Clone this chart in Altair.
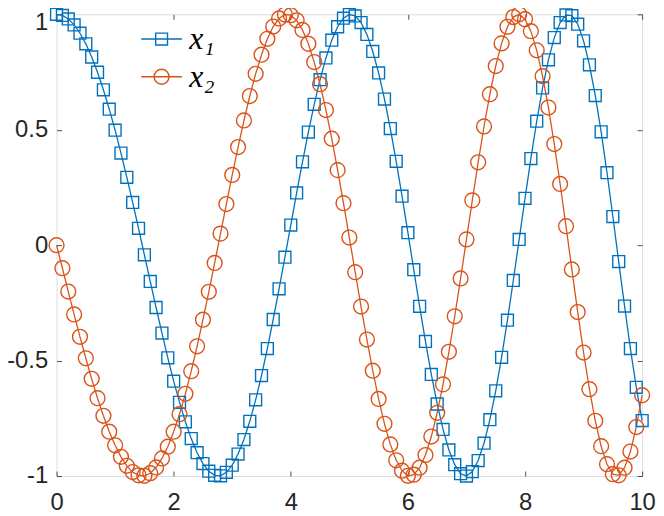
import altair as alt
import pandas as pd

t_values = [0.0, 0.1, 0.2, 0.3, 0.4, 0.5, 0.6, 0.7, 0.8, 0.9,
            1.0, 1.1, 1.2, 1.3, 1.4, 1.5, 1.6, 1.7, 1.8, 1.9,
            2.0, 2.1, 2.2, 2.3, 2.4, 2.5, 2.6, 2.7, 2.8, 2.9,
            3.0, 3.1, 3.2, 3.3, 3.4, 3.5, 3.6, 3.7, 3.8, 3.9,
            4.0, 4.1, 4.2, 4.3, 4.4, 4.5, 4.6, 4.7, 4.8, 4.9,
            5.0, 5.1, 5.2, 5.3, 5.4, 5.5, 5.6, 5.7, 5.8, 5.9,
            6.0, 6.1, 6.2, 6.3, 6.4, 6.5, 6.6, 6.7, 6.8, 6.9,
            7.0, 7.1, 7.2, 7.3, 7.4, 7.5, 7.6, 7.7, 7.8, 7.9,
            8.0, 8.1, 8.2, 8.3, 8.4, 8.5, 8.6, 8.7, 8.8, 8.9,
            9.0, 9.1, 9.2, 9.3, 9.4, 9.5, 9.6, 9.7, 9.8, 9.9,
            10.0]

x1_values = [1.000, 0.995, 0.980, 0.954, 0.918, 0.872, 0.815, 0.749, 0.673, 0.589,
             0.498, 0.399, 0.294, 0.185, 0.073, -0.042, -0.157, -0.270, -0.381, -0.488,
             -0.589, -0.681, -0.765, -0.838, -0.899, -0.946, -0.979, -0.997, -0.999, -0.984,
             -0.953, -0.905, -0.842, -0.763, -0.670, -0.565, -0.448, -0.322, -0.189, -0.052,
             0.087, 0.226, 0.361, 0.490, 0.610, 0.717, 0.811, 0.888, 0.946, 0.983,
             0.999, 0.993, 0.964, 0.913, 0.839, 0.746, 0.633, 0.505, 0.363, 0.212,
             0.054, -0.106, -0.265, -0.417, -0.560, -0.688, -0.798, -0.887, -0.951, -0.990,
             -1.000, -0.981, -0.933, -0.858, -0.756, -0.631, -0.486, -0.325, -0.153, 0.025,
             0.203, 0.375, 0.537, 0.681, 0.803, 0.899, 0.964, 0.997, 0.994, 0.957,
             0.885, 0.781, 0.648, 0.491, 0.314, 0.124, -0.071, -0.264, -0.448, -0.616,
             -0.760]

x2_values = [0.000, -0.100, -0.201, -0.300, -0.397, -0.490, -0.579, -0.663, -0.739, -0.808,
             -0.867, -0.917, -0.956, -0.983, -0.997, -0.999, -0.988, -0.963, -0.924, -0.873,
             -0.808, -0.732, -0.644, -0.546, -0.438, -0.323, -0.202, -0.077, 0.050, 0.178,
             0.304, 0.425, 0.540, 0.646, 0.742, 0.825, 0.894, 0.947, 0.982, 0.999,
             0.996, 0.974, 0.932, 0.872, 0.793, 0.697, 0.585, 0.461, 0.325, 0.182,
             0.033, -0.117, -0.266, -0.409, -0.544, -0.666, -0.774, -0.863, -0.932, -0.977,
             -0.999, -0.994, -0.964, -0.909, -0.829, -0.726, -0.603, -0.462, -0.308, -0.144,
             0.025, 0.194, 0.359, 0.514, 0.654, 0.776, 0.874, 0.946, 0.988, 1.000,
             0.979, 0.927, 0.844, 0.732, 0.596, 0.438, 0.265, 0.082, -0.105, -0.290,
             -0.465, -0.624, -0.761, -0.871, -0.949, -0.992, -0.997, -0.964, -0.894, -0.788,
             -0.650]

series_names = ["x1", "x2"]
legend_labels = ["x\u2081", "x\u2082"]
series_colors = ["#0072BD", "#D95319"]
x_ticks = [0, 2, 4, 6, 8, 10]
y_ticks = [-1, -0.5, 0, 0.5, 1]

rows = []
for name, vals in zip(series_names, [x1_values, x2_values]):
    for t, v in zip(t_values, vals):
        rows.append({"t": t, "value": v, "series": name})
df = pd.DataFrame(rows)
legend_df = pd.DataFrame({"label": legend_labels})

W, H = 591, 466
AX = "#4d4d4d"
TXT = "#262626"
FONT = "Liberation Sans"

x_scale = alt.Scale(domain=[0, 10], nice=False, zero=False)
y_scale = alt.Scale(domain=[-1, 1], nice=False, zero=False)
color_scale = alt.Scale(domain=series_names, range=series_colors)

x_axis_main = alt.Axis(orient="bottom", values=x_ticks, offset=-5, tickSize=5,
                       domain=False, grid=False, labelPadding=15, labelFont=FONT,
                       labelFontSize=24, labelColor=TXT, tickColor=AX, tickWidth=1,
                       labelFlush=False, labelOverlap=False,
                       title=None, labelExpr="'' + datum.value")
y_axis_main = alt.Axis(orient="left", values=y_ticks, offset=-5, tickSize=5,
                       domain=False, grid=False, labelPadding=9, labelFont=FONT,
                       labelFontSize=24, labelColor=TXT, tickColor=AX, tickWidth=1,
                       labelFlush=False, labelOverlap=False,
                       title=None, labelExpr="'' + datum.value",
                       labelOffset={"condition": {"test": "datum.value == 1", "value": 8}, "value": 0})
x_axis_top = alt.Axis(orient="top", values=x_ticks, offset=-5, tickSize=5,
                      domain=False, grid=False, labels=False, tickColor=AX,
                      tickWidth=1, title=None)
y_axis_right = alt.Axis(orient="right", values=y_ticks, offset=-5, tickSize=5,
                        domain=False, grid=False, labels=False, tickColor=AX,
                        tickWidth=1, title=None)

lines = alt.Chart(df).mark_line(strokeWidth=1.3).encode(
    x=alt.X("t:Q", scale=x_scale, axis=x_axis_main),
    y=alt.Y("value:Q", scale=y_scale, axis=y_axis_main),
    color=alt.Color("series:N", scale=color_scale, legend=None),
    order=alt.Order("t:Q"),
)

points = alt.Chart(df).mark_point(filled=False, strokeWidth=1.4, opacity=1).encode(
    x=alt.X("t:Q", scale=x_scale, axis=x_axis_top),
    y=alt.Y("value:Q", scale=y_scale, axis=y_axis_right),
    color=alt.Color("series:N", scale=color_scale, legend=None),
    shape=alt.Shape("series:N", scale=alt.Scale(domain=series_names, range=["square", "circle"]), legend=None),
    size=alt.Size("series:O", scale=alt.Scale(domain=series_names, range=[144, 225]), legend=None),
)

path_sq = "M-1.58,0H1.58M-0.46,-0.46H0.46V0.46H-0.46Z"
path_ci = "M-1.58,0H1.58M0.58,0A0.58,0.58,0,1,1,-0.58,0A0.58,0.58,0,1,1,0.58,0Z"

legend_def = alt.Legend(orient="none", legendX=90, legendY=9, title=None,
                        padding=0, symbolOffset=0, symbolSize=676,
                        symbolStrokeWidth=1.4, labelFont="Liberation Serif",
                        labelFontStyle="italic", labelFontSize=32, labelColor="black",
                        labelOffset=12, rowPadding=6)

legend_layer = alt.Chart(legend_df).transform_filter("false").mark_point(
    filled=False, size=676, strokeWidth=1.4, opacity=1
).encode(
    color=alt.Color("label:N", scale=alt.Scale(domain=legend_labels, range=series_colors), legend=legend_def),
    shape=alt.Shape("label:N", scale=alt.Scale(domain=legend_labels, range=[path_sq, path_ci]), legend=legend_def),
)

chart = alt.layer(lines, points, legend_layer).resolve_scale(
    color="independent", shape="independent"
).resolve_axis(
    x="independent", y="independent"
).properties(
    width=W, height=H,
    autosize=alt.AutoSizeParams(type="none"),
    padding={"left": 49, "top": 4, "right": 14, "bottom": 38},
).configure_view(stroke=AX, strokeWidth=1).configure(background="white")

chart.save("out.html", embed_options={"renderer": "svg", "actions": False})
